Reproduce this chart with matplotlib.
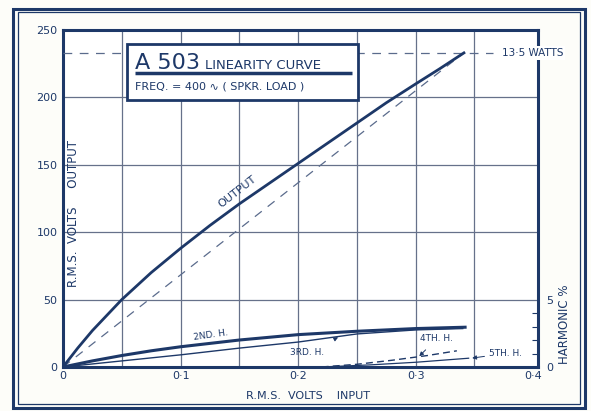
# a503_linearity.py
# Linearity curve of the A503 amplifier: output volts against input volts,
# with the harmonic content (%) on a second scale at the right.

import matplotlib.pyplot as plt
from matplotlib.patches import Rectangle

NAVY = "#1d3868"
GRID = "#66718a"
PAPER = "#fdfdf9"

# Output volts (r.m.s.) against input volts (r.m.s.)
input_v = [0, 0.0125, 0.025, 0.05, 0.075, 0.1, 0.125, 0.15, 0.175, 0.2,
           0.225, 0.25, 0.275, 0.3, 0.32, 0.341]
output_v = [0, 14, 27, 50, 70, 88, 105, 121, 136, 151,
            166, 181, 196, 210, 221, 233]

# Ideal straight line up to full output (13.5 W)
ideal_in = [0, 0.341]
ideal_out = [0, 233]
full_output = 233

# Harmonic content, per cent
h2_in = [0, 0.025, 0.05, 0.075, 0.1, 0.15, 0.2, 0.25, 0.3, 0.342]
h2_pct = [0, 0.45, 0.85, 1.2, 1.5, 2.0, 2.4, 2.65, 2.85, 2.95]
h3_in = [0, 0.05, 0.1, 0.15, 0.2, 0.25, 0.3, 0.34]
h3_pct = [0, 0.45, 0.9, 1.4, 1.85, 2.45, 2.75, 2.85]
h4_in = [0.22, 0.25, 0.28, 0.31, 0.335]
h4_pct = [0, 0.2, 0.5, 0.85, 1.2]
h5_in = [0.22, 0.26, 0.3, 0.345]
h5_pct = [0, 0.15, 0.35, 0.65]

x_ticks = [0, 0.1, 0.2, 0.3, 0.4]
x_labels = ["0", "0·1", "0·2", "0·3", "0·4"]
y_ticks = [0, 50, 100, 150, 200, 250]

plt.rcParams["font.family"] = ["DejaVu Sans"]

fig = plt.figure(figsize=(5.91, 4.11), dpi=100)
fig.patch.set_facecolor(PAPER)

# double border round the sheet
fig.add_artist(Rectangle((0.022, 0.008), 0.968, 0.970, transform=fig.transFigure,
                         fill=False, ec=NAVY, lw=2.2))
fig.add_artist(Rectangle((0.030, 0.018), 0.952, 0.953, transform=fig.transFigure,
                         fill=False, ec=NAVY, lw=0.9))

ax = fig.add_axes([0.1066, 0.1071, 0.8037, 0.820])
ax.set_facecolor("white")
ax.set_xlim(0, 0.404)
ax.set_ylim(0, 250)

for xv in [0.05, 0.1, 0.15, 0.2, 0.25, 0.3, 0.35]:
    ax.axvline(xv, color=GRID, lw=0.9, zorder=1)
for yv in [50, 100, 150, 200]:
    ax.axhline(yv, color=GRID, lw=0.9, zorder=1)

for sp in ax.spines.values():
    sp.set_color(NAVY)
    sp.set_linewidth(2.2)

ax.set_xticks(x_ticks, x_labels)
ax.set_yticks(y_ticks)
ax.tick_params(length=0, colors=NAVY, labelsize=8, pad=4)
ax.tick_params(axis="x", pad=3)

ax.plot(input_v, output_v, color=NAVY, lw=2.0, zorder=4)
ax.plot(ideal_in, ideal_out, color="#5a6b8c", lw=0.9, ls=(0, (7, 6)), zorder=3)
ax.plot([0, 0.366], [full_output, full_output], color="#5a6b8c", lw=0.9,
        ls=(0, (7, 6)), zorder=3)

ax.text(0.148, 130, "OUTPUT", rotation=38, color=NAVY, fontsize=8,
        ha="center", va="center", zorder=5)
ax.text(0.009, 114, "R.M.S.  VOLTS     OUTPUT", rotation=90, color=NAVY,
        fontsize=8.5, ha="center", va="center")
ax.text(0.208, -0.07, "R.M.S.  VOLTS    INPUT", transform=ax.get_xaxis_transform(),
        color=NAVY, fontsize=8, ha="center", va="top")

# title panel
ax.add_patch(Rectangle((0.135, 0.792), 0.486, 0.166, transform=ax.transAxes,
                       fc="white", ec=NAVY, lw=2.0, zorder=6))
ax.text(0.152, 0.885, "A 503", transform=ax.transAxes, color=NAVY,
        fontsize=16, ha="left", va="baseline", zorder=7)
ax.text(0.300, 0.885, "LINEARITY CURVE", transform=ax.transAxes, color=NAVY,
        fontsize=9.5, ha="left", va="baseline", zorder=7)
ax.plot([0.152, 0.608], [0.872, 0.872], transform=ax.transAxes, color=NAVY,
        lw=2.5, zorder=7, solid_capstyle="butt")
ax.text(0.152, 0.832, "FREQ. = 400 ∿ ( SPKR. LOAD )", transform=ax.transAxes,
        color=NAVY, fontsize=8, ha="left", va="center", zorder=7)

# harmonic scale on the right
ax2 = ax.twinx()
ax2.set_ylim(0, 25)
for sp in ax2.spines.values():
    sp.set_visible(False)
ax2.set_yticks([0, 5], ["0", "5"])
ax2.set_yticks([1, 2, 3, 4], minor=True)
ax2.tick_params(axis="y", which="major", length=0, colors=NAVY, labelsize=8, pad=6)
ax2.tick_params(axis="y", which="minor", direction="in", length=4, width=0.8,
                color=NAVY)

ax2.plot(h2_in, h2_pct, color=NAVY, lw=2.2, zorder=4)
ax2.plot(h3_in, h3_pct, color=NAVY, lw=1.0, zorder=4)
ax2.plot(h4_in, h4_pct, color=NAVY, lw=1.0, ls=(0, (5, 3)), zorder=4)
ax2.plot(h5_in, h5_pct, color=NAVY, lw=0.9, zorder=4)

ax2.text(0.126, 2.4, "2ND. H.", rotation=8, color=NAVY, fontsize=6.5,
         ha="center", va="center")
ax2.annotate("3RD. H.", xy=(0.234, 2.2), xytext=(0.208, 1.05), color=NAVY,
             fontsize=6.5, ha="center", va="center",
             arrowprops=dict(arrowstyle="-|>", color=NAVY, lw=0.7,
                             shrinkA=10, shrinkB=0, mutation_scale=6))
ax2.annotate("4TH. H.", xy=(0.303, 0.8), xytext=(0.318, 2.1), color=NAVY,
             fontsize=6.5, ha="center", va="center",
             arrowprops=dict(arrowstyle="-|>", color=NAVY, lw=0.7,
                             shrinkA=4, shrinkB=0, mutation_scale=6))
ax2.annotate("5TH. H.", xy=(0.348, 0.66), xytext=(0.362, 1.0), color=NAVY,
             fontsize=6.5, ha="left", va="center", annotation_clip=False,
             arrowprops=dict(arrowstyle="-|>", color=NAVY, lw=0.7,
                             shrinkA=1, shrinkB=0, mutation_scale=6))

ax2.text(0.373, 23.3, "13·5 WATTS", color=NAVY, fontsize=7.5, ha="left",
         va="center", zorder=8, clip_on=False,
         bbox=dict(fc="white", ec="none", pad=1.5))

fig.text(0.956, 0.21, "HARMONIC %", rotation=90, color=NAVY, fontsize=8.5,
         ha="center", va="center")

fig.savefig("out.png", dpi=100, facecolor=fig.get_facecolor())
